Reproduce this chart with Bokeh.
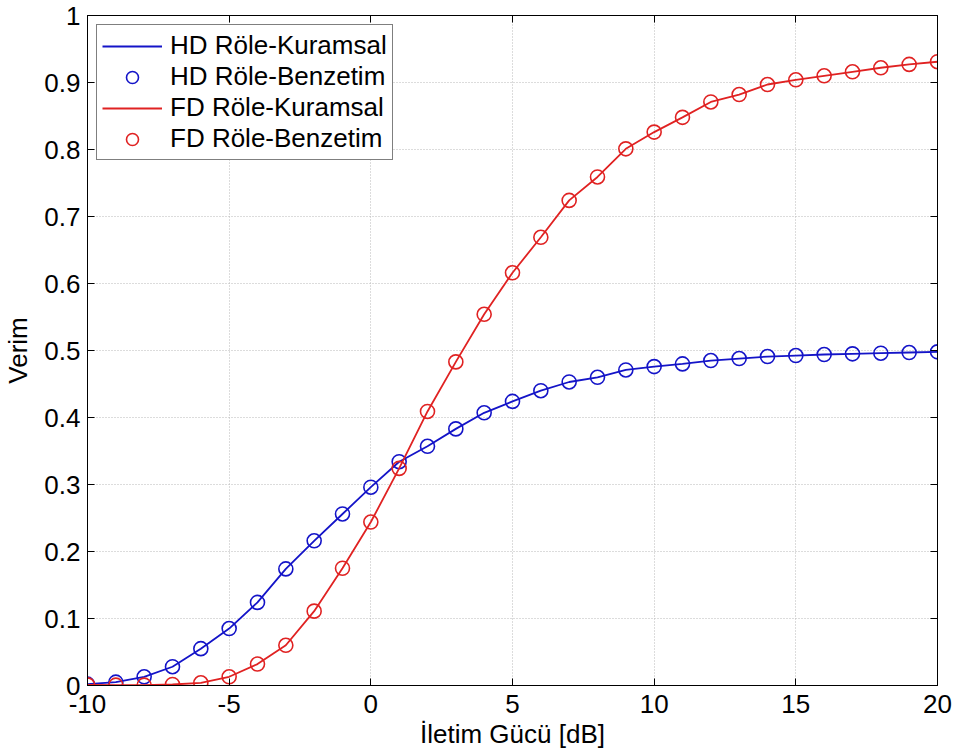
from bokeh.plotting import figure
from bokeh.models import FixedTicker, LinearAxis, Legend, LegendItem
from bokeh.embed import file_html
from bokeh.resources import INLINE

# ---- data ----
power_db = list(range(-10, 21))
hd_values = [0.002, 0.005, 0.013, 0.028, 0.055, 0.085, 0.124, 0.174, 0.216, 0.256,
             0.296, 0.334, 0.357, 0.383, 0.407, 0.424, 0.440, 0.453, 0.460, 0.471,
             0.476, 0.480, 0.485, 0.488, 0.491, 0.4925, 0.494, 0.495, 0.496, 0.497, 0.498]
fd_values = [0.001, 0.0005, 0.0005, 0.0015, 0.004, 0.013, 0.032, 0.060, 0.111, 0.175,
             0.244, 0.324, 0.409, 0.483, 0.554, 0.616, 0.669, 0.724, 0.759, 0.801,
             0.826, 0.848, 0.871, 0.882, 0.897, 0.904, 0.910, 0.916, 0.922, 0.927, 0.931]
x_ticks = [-10, -5, 0, 5, 10, 15, 20]
x_tick_labels = ["-10", "-5", "0", "5", "10", "15", "20"]
y_ticks = [0, 0.1, 0.2, 0.3, 0.4, 0.5, 0.6, 0.7, 0.8, 0.9, 1]
y_tick_labels = ["0", "0.1", "0.2", "0.3", "0.4", "0.5", "0.6", "0.7", "0.8", "0.9", "1"]
x_label = "İletim Gücü [dB]"
y_label = "Verim"
series_names = ["HD Röle-Kuramsal", "HD Röle-Benzetim", "FD Röle-Kuramsal", "FD Röle-Benzetim"]

FONT = "Liberation Sans"
FS = "26px"
BLUE = "#1414c8"
RED = "#e02222"

p = figure(width=956, height=754, output_backend="svg", toolbar_location=None,
           x_range=(-10, 20), y_range=(0, 1),
           min_border_left=87, min_border_right=19, min_border_top=15, min_border_bottom=69)
p.background_fill_color = "white"
p.border_fill_color = "white"
p.outline_line_color = "black"
p.outline_line_width = 1

for ax in (p.xaxis[0], p.yaxis[0]):
    ax.major_tick_in = 7
    ax.major_tick_out = 0
    ax.minor_tick_in = 0
    ax.minor_tick_out = 0
    ax.axis_line_color = "black"
    ax.major_tick_line_color = "black"
    ax.major_label_text_font = FONT
    ax.major_label_text_font_size = FS
    ax.major_label_text_color = "black"
    ax.axis_label_text_font = FONT
    ax.axis_label_text_font_size = FS
    ax.axis_label_text_font_style = "normal"
    ax.axis_label_text_color = "black"

p.xaxis[0].ticker = FixedTicker(ticks=x_ticks)
p.yaxis[0].ticker = FixedTicker(ticks=y_ticks)
p.xaxis[0].major_label_overrides = {t: l for t, l in zip(x_ticks, x_tick_labels)}
p.yaxis[0].major_label_overrides = {t: l for t, l in zip(y_ticks, y_tick_labels)}
p.xaxis[0].axis_label = x_label
p.yaxis[0].axis_label = y_label
p.xaxis[0].major_label_standoff = 9
p.yaxis[0].major_label_standoff = 7
p.xaxis[0].axis_label_standoff = 3
p.yaxis[0].axis_label_standoff = 8

# mirrored axes (ticks only)
top_ax = LinearAxis(ticker=FixedTicker(ticks=x_ticks), major_tick_in=7, major_tick_out=0,
                    minor_tick_in=0, minor_tick_out=0,
                    major_label_overrides={t: "" for t in x_ticks},
                    major_label_standoff=0, axis_line_color="black")
right_ax = LinearAxis(ticker=FixedTicker(ticks=y_ticks), major_tick_in=7, major_tick_out=0,
                      minor_tick_in=0, minor_tick_out=0,
                      major_label_overrides={t: "" for t in y_ticks},
                      major_label_standoff=0, axis_line_color="black")
p.add_layout(top_ax, "above")
p.add_layout(right_ax, "right")

p.xgrid.ticker = FixedTicker(ticks=x_ticks)
p.ygrid.ticker = FixedTicker(ticks=y_ticks)
for g in (p.xgrid[0], p.ygrid[0]):
    g.grid_line_color = "#b8b8b8"
    g.grid_line_dash = "1 2"
    g.grid_line_width = 1

hd_line = p.line(power_db, hd_values, line_color=BLUE, line_width=1.8)
hd_pts = p.scatter(power_db, hd_values, marker="circle", size=14, fill_color=None,
                   line_color=BLUE, line_width=1.6)
fd_line = p.line(power_db, fd_values, line_color=RED, line_width=1.8)
fd_pts = p.scatter(power_db, fd_values, marker="circle", size=14, fill_color=None,
                   line_color=RED, line_width=1.6)

legend = Legend(items=[
    LegendItem(label=series_names[0], renderers=[hd_line]),
    LegendItem(label=series_names[1], renderers=[hd_pts]),
    LegendItem(label=series_names[2], renderers=[fd_line]),
    LegendItem(label=series_names[3], renderers=[fd_pts]),
], location="top_left")
legend.margin = 9
legend.padding = 5
legend.spacing = 0
legend.glyph_width = 60
legend.glyph_height = 30
legend.label_standoff = 8
legend.label_text_font = FONT
legend.label_text_font_size = FS
legend.label_text_color = "black"
legend.border_line_color = "black"
legend.border_line_width = 1
legend.background_fill_color = "white"
legend.background_fill_alpha = 1
p.add_layout(legend)

open("out.html", "w").write(file_html(p, INLINE))
